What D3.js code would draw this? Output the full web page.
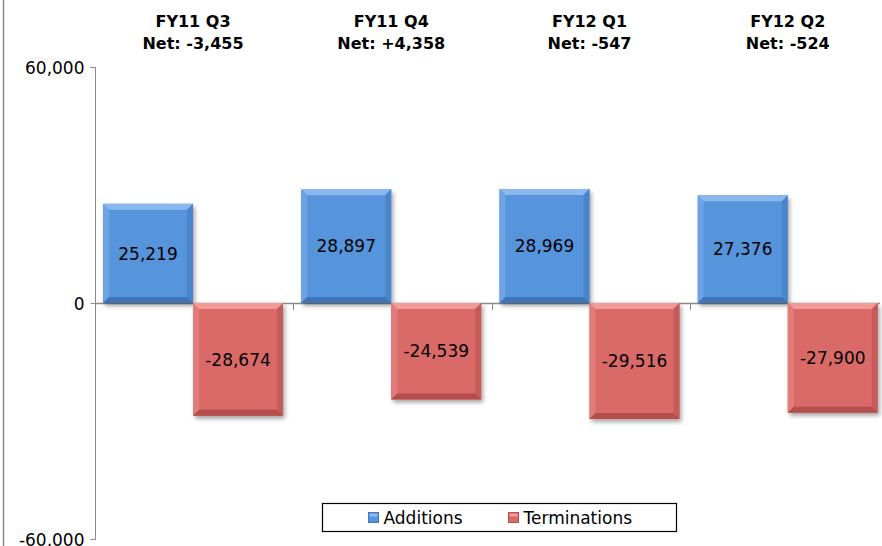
<!DOCTYPE html>
<html>
<head>
<meta charset="utf-8">
<script src="https://cdn.jsdelivr.net/npm/d3@7"></script>
<style>
  body { margin: 0; background: #fff; }
  svg { display: block; font-family: "DejaVu Sans", Verdana, sans-serif; }
</style>
</head>
<body>
<div id="chart"></div>
<script>
// chart data
var quarters = ["FY11 Q3", "FY11 Q4", "FY12 Q1", "FY12 Q2"];
var additions = [25219, 28897, 28969, 27376];
var terminations = [-28674, -24539, -29516, -27900];
var series = ["Additions", "Terminations"];
var yTicks = [-60000, 0, 60000];

var width = 882, height = 546;

var colors = {
    "Additions": { face: "#5794dc", light: "#8ab8ee", lite2: "#6ba3e4", dark: "#3f74b8", dark2: "#4a84c9" },
    "Terminations": { face: "#da6a68", light: "#f19a97", lite2: "#e27c79", dark: "#b34e4c", dark2: "#c65c5a" }
};

// plain hyphen for negatives, like the original
var locale = d3.formatLocale({ decimal: ".", thousands: ",", grouping: [3], currency: ["", ""], minus: "-" });
var fmt = locale.format(",");
var netFmt = locale.format("+,");

var svg = d3.select("#chart").append("svg")
    .attr("width", width)
    .attr("height", height);

var defs = svg.append("defs");
var shadow = defs.append("filter").attr("id", "shadow")
    .attr("x", "-10%").attr("y", "-10%").attr("width", "130%").attr("height", "130%");
shadow.append("feDropShadow")
    .attr("dx", 2).attr("dy", 3).attr("stdDeviation", 2)
    .attr("flood-color", "#000").attr("flood-opacity", 0.35);

// outer frame line on the left
svg.append("line")
    .attr("x1", 3.5).attr("x2", 3.5)
    .attr("y1", 0).attr("y2", height)
    .attr("stroke", "#8a8a8a").attr("stroke-width", 1.5);

var y = d3.scaleLinear().domain([-60000, 60000]).range([539, 67]);
var x0 = d3.scaleBand().domain(quarters).range([95, 888]).padding(0);
var x1 = d3.scaleBand().domain(series).range([8, 188]).padding(0);

// y axis
var yAxis = d3.axisLeft(y).tickValues(yTicks).tickSize(5).tickFormat(fmt);
var gy = svg.append("g").attr("transform", "translate(95.5,0)").call(yAxis);
gy.select(".domain").attr("stroke", "#8a8a8a").attr("d", "M-5," + (y(60000) + .5) + "H0V" + (y(-60000) + .5) + "H-5");
gy.selectAll(".tick line").attr("stroke", "#8a8a8a");
gy.selectAll(".tick text")
    .attr("font-size", 17)
    .attr("font-family", "DejaVu Sans, Verdana, sans-serif")
    .attr("fill", "#000")
    .attr("x", -11)
    .attr("dy", "0.36em");

// zero line with category ticks
svg.append("line")
    .attr("x1", 95).attr("x2", 880)
    .attr("y1", y(0) + .5).attr("y2", y(0) + .5)
    .attr("stroke", "#8a8a8a").attr("stroke-width", 1.5);
svg.selectAll(".cattick")
    .data(quarters.slice(1))
    .enter().append("line")
    .attr("class", "cattick")
    .attr("x1", function (d) { return Math.round(x0(d)) + .5; })
    .attr("x2", function (d) { return Math.round(x0(d)) + .5; })
    .attr("y1", y(0)).attr("y2", y(0) + 7)
    .attr("stroke", "#8a8a8a");

// bars
var rows = [];
quarters.forEach(function (q, i) {
    rows.push({ q: q, s: "Additions", v: additions[i] });
    rows.push({ q: q, s: "Terminations", v: terminations[i] });
});

function bevelBar(g, d) {
    var bx = x0(d.q) + x1(d.s), bw = x1.bandwidth();
    var top = Math.min(y(d.v), y(0)), bot = Math.max(y(d.v), y(0));
    var bh = bot - top, b = 6;
    var c = colors[d.s];
    g.append("rect")
        .attr("x", bx).attr("y", top).attr("width", bw).attr("height", bh)
        .attr("fill", c.face).attr("filter", "url(#shadow)");
    var L = bx, R = bx + bw, T = top, B = bot;
    // top bevel
    g.append("path").attr("fill", c.light)
        .attr("d", "M" + L + "," + T + "L" + R + "," + T + "L" + (R - b) + "," + (T + b) + "L" + (L + b) + "," + (T + b) + "Z");
    // left bevel
    g.append("path").attr("fill", c.lite2)
        .attr("d", "M" + L + "," + T + "L" + (L + b) + "," + (T + b) + "L" + (L + b) + "," + (B - b) + "L" + L + "," + B + "Z");
    // right bevel
    g.append("path").attr("fill", c.dark2)
        .attr("d", "M" + R + "," + T + "L" + R + "," + B + "L" + (R - b) + "," + (B - b) + "L" + (R - b) + "," + (T + b) + "Z");
    // bottom bevel
    g.append("path").attr("fill", c.dark)
        .attr("d", "M" + L + "," + B + "L" + (L + b) + "," + (B - b) + "L" + (R - b) + "," + (B - b) + "L" + R + "," + B + "Z");
    g.append("text")
        .attr("x", bx + bw / 2)
        .attr("y", (top + bot) / 2)
        .attr("dy", "0.36em")
        .attr("text-anchor", "middle")
        .attr("font-size", 17)
        .attr("fill", "#000")
        .text(fmt(d.v));
}

svg.selectAll(".bar")
    .data(rows)
    .enter().append("g")
    .attr("class", "bar")
    .each(function (d) { bevelBar(d3.select(this), d); });

// headers with net value
var head = svg.selectAll(".head")
    .data(quarters)
    .enter().append("g")
    .attr("class", "head")
    .attr("transform", function (d) { return "translate(" + (x0(d) + x1(series[1])) + ",0)"; });
head.append("text")
    .attr("y", 27)
    .attr("text-anchor", "middle")
    .attr("font-size", 16).attr("font-weight", "bold")
    .text(function (d) { return d; });
head.append("text")
    .attr("y", 49)
    .attr("text-anchor", "middle")
    .attr("font-size", 16).attr("font-weight", "bold")
    .text(function (d, i) {
        var n = additions[i] + terminations[i];
        return "Net: " + (n > 0 ? netFmt(n) : fmt(n));
    });

// legend
var legend = svg.append("g").attr("transform", "translate(322.5,503.5)");
legend.append("rect")
    .attr("width", 354).attr("height", 28)
    .attr("fill", "#fff").attr("stroke", "#000").attr("stroke-width", 1.2);
var legX = [46, 186];
series.forEach(function (s, i) {
    var g = legend.append("g").attr("transform", "translate(" + legX[i] + ",9)");
    g.append("rect").attr("width", 10).attr("height", 10).attr("fill", colors[s].face)
        .attr("stroke", colors[s].dark).attr("stroke-width", 1);
    g.append("rect").attr("x", 1).attr("y", 1).attr("width", 8).attr("height", 3).attr("fill", colors[s].light);
    g.append("text")
        .attr("x", 15).attr("y", 5)
        .attr("dy", "0.36em")
        .attr("font-size", 17)
        .text(s);
});
</script>
</body>
</html>
